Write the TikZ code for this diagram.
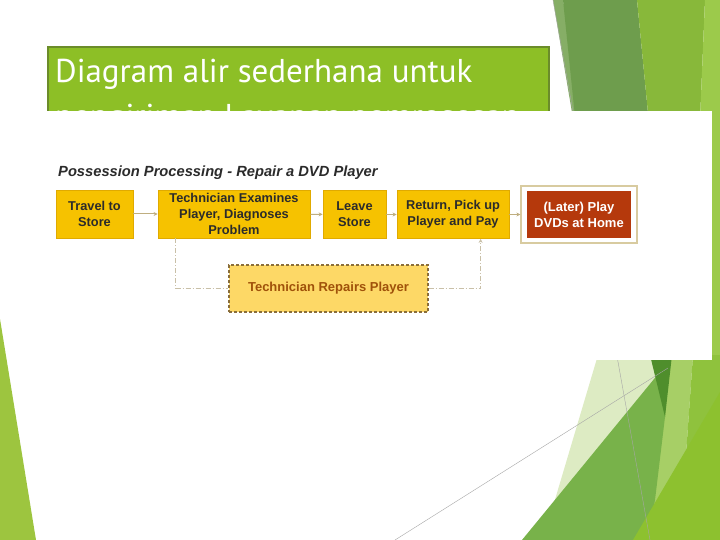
\documentclass[tikz,border=0pt]{standalone}
\usepackage{fontspec}
\setmainfont{Liberation Sans}
\newfontfamily\slidefont{PT Sans}
\usetikzlibrary{arrows.meta,calc}
\definecolor{titlegreen}{HTML}{8DBF26}
\definecolor{titleedge}{HTML}{6B8C2A}
\definecolor{gA}{HTML}{86AE66}
\definecolor{gB}{HTML}{6E9D4D}
\definecolor{gC}{HTML}{88B83A}
\definecolor{gD}{HTML}{9CCA4B}
\definecolor{gPale}{HTML}{DDEBC3}
\definecolor{gLight}{HTML}{A7CF66}
\definecolor{gBright}{HTML}{8FC23D}
\definecolor{gMid}{HTML}{78B24A}
\definecolor{gYel}{HTML}{8DC12F}
\definecolor{gDark}{HTML}{4F8E2C}
\definecolor{gLeft}{HTML}{9DC53F}
\definecolor{boxfill}{HTML}{F6C200}
\definecolor{boxedge}{HTML}{E0AA00}
\definecolor{boxtext}{HTML}{2B2B2B}
\definecolor{redfill}{HTML}{B5390C}
\definecolor{frameedge}{HTML}{D8CBA0}
\definecolor{arrowcol}{HTML}{BFAE80}
\definecolor{dashcol}{HTML}{C9C0A8}
\definecolor{repfill}{HTML}{FDD866}
\definecolor{repedge}{HTML}{8A6E3A}
\definecolor{reptext}{HTML}{A0520A}
\tikzset{
  stepbox/.style={draw=boxedge, line width=0.8pt, fill=boxfill, text=boxtext,
    font=\bfseries\fontsize{12.8}{16}\selectfont, align=center, inner sep=0pt,
    minimum height=48pt},
  flowarrow/.style={draw=arrowcol, line width=1pt, -{Stealth[length=4pt,width=4pt]}},
  loopline/.style={draw=dashcol, line width=1pt, dash pattern=on 5pt off 2pt on 1pt off 2pt},
  grayline/.style={draw=gray!70, line width=0.4pt},
  slidetitle/.style={anchor=base west, text=white, inner sep=0pt, font=\slidefont\fontsize{33}{40}\selectfont}
}
\begin{document}
\begin{tikzpicture}[x=1pt,y=-1pt]
\useasboundingbox (0,0) rectangle (720,540);
\fill[white] (0,0) rectangle (720,540);
% background decoration
\fill[gLeft] (0,319) -- (36,540) -- (0,540) -- cycle;
\fill[gA] (553,0) -- (563,0) -- (590,160) -- (580,160) -- cycle;
\fill[gB] (563,0) -- (637,0) -- (672,360) -- (600,360) -- cycle;
\fill[gC] (637,0) -- (705,0) -- (690,360) -- (672,360) -- cycle;
\fill[gD] (705,0) -- (720,0) -- (720,360) -- (690,360) -- cycle;
\fill[gPale] (598,355) -- (670,355) -- (650,540) -- (543,540) -- cycle;
\fill[gLight] (668,355) -- (693,355) -- (680,540) -- (645,540) -- cycle;
\fill[gBright] (693,355) -- (720,355) -- (720,540) -- (680,540) -- cycle;
\fill[gMid] (522,540) -- (668,362) -- (665,417) -- (655,500) -- (648,540) -- cycle;
\fill[gYel] (633,540) -- (720,392) -- (720,540) -- cycle;
\fill[gDark] (650,355) -- (672,355) -- (665,417) -- cycle;
\draw[grayline] (553,0) -- (650,540);
\draw[grayline] (395,540) -- (668,368);
% slide title
\draw[draw=titleedge, line width=2.5pt, fill=titlegreen] (48,47) rectangle (549,150);
\node[slidetitle] (title1) at (55,83) {Diagram alir sederhana untuk};
\node[slidetitle] (title2) at (55,128) {pengiriman Layanan pemrosesan};
% picture area
\fill[white] (40,111) rectangle (712,360);
\node[anchor=base west, inner sep=0pt, text=boxtext, font=\bfseries\itshape\fontsize{14.7}{17}\selectfont] (dtitle) at (58,177) {Possession Processing - Repair a DVD Player};
\node[stepbox, minimum width=77pt] (travel) at (94.5,214) {Travel to\\Store};
\node[stepbox, minimum width=152pt] (tech) at (234,214) {Technician Examines\\Player, Diagnoses\\Problem};
\node[stepbox, minimum width=63pt] (leave) at (354.5,214.5) {Leave\\Store};
\node[stepbox, minimum width=112pt] (ret) at (453,214.5) {Return, Pick up\\Player and Pay};
\node[draw=frameedge, line width=1.2pt, fill=white, minimum width=116pt, minimum height=57pt, inner sep=0pt] (frame) at (579,214.5) {};
\node[fill=redfill, text=white, minimum width=104pt, minimum height=46pt, inner sep=0pt, align=center, font=\bfseries\fontsize{13}{16}\selectfont] (later) at (579,214.5) {(Later) Play\\DVDs at Home};
\node[draw=repedge, line width=1.2pt, dash pattern=on 3pt off 2pt, fill=repfill, text=reptext, minimum width=199pt, minimum height=47pt, inner sep=0pt, font=\bfseries\fontsize{13}{16}\selectfont] (repair) at (328.5,288.5) {Technician Repairs Player};
% connectors
\draw[flowarrow] (travel) -- (tech);
\draw[flowarrow] (tech) -- (leave);
\draw[flowarrow] (leave) -- (ret);
\draw[flowarrow] (ret) -- (frame);
\coordinate (loopstart) at ($(tech.south west)+(18,0)$);
\coordinate (loopend) at ($(ret.south west)+(84,0)$);
\draw[loopline] (loopstart) |- (repair.west);
\draw[loopline, -{Stealth[length=4pt,width=4pt]}] (repair.east) -| (loopend);
\end{tikzpicture}
\end{document}
